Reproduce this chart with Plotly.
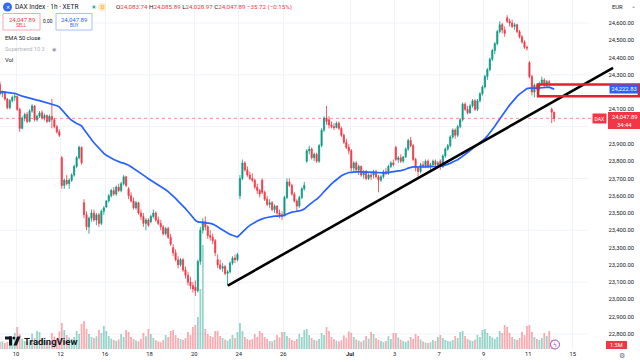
import plotly.graph_objects as go

# ---------------- data (1h bars, DAX Index, XETR) ----------------
opens = [
 24200,24215,24245,24190,24200,24160,24110,24150,24170,
 24175,24100,23990,24050,24070,24030,24090,24120,24040,
 24060,24080,24050,24065,24030,24060,24040,24000,23970,
 23820,23660,23690,23670,23690,23720,23770,23820,23880,
 23560,23490,23420,23470,23500,23460,23490,23440,23510,
 23535,23570,23600,23630,23610,23650,23630,23670,23710,
 23640,23600,23570,23530,23560,23500,23480,23440,23460,
 23450,23480,23500,23460,23440,23420,23380,23410,23360,
 23300,23270,23230,23200,23230,23170,23140,23100,23080,
 23070,23050,23220,23400,23450,23420,23370,23360,23340,
 23230,23200,23180,23190,23150,23160,23210,23240,23230,
 23600,23700,23790,23750,23720,23700,23690,23650,23630,
 23690,23620,23580,23550,23560,23520,23540,23500,23490,
 23490,23590,23680,23660,23610,23570,23540,23590,23640,
 23800,23860,23870,23820,23840,23800,23890,23980,24050,
 24040,24010,24000,23995,24020,23990,23950,23910,23880,
 23860,23760,23790,23750,23770,23720,23740,23700,23720,
 23720,23740,23710,23690,23710,23740,23730,23770,23790,
 23880,23810,23820,23800,23825,23870,23920,23890,23810,
 23760,23740,23780,23770,23800,23770,23780,23800,23780,
 23800,23770,23830,23870,23890,23940,23980,23950,24000,
 24040,24130,24100,24080,24120,24150,24100,24150,24190,
 24230,24290,24330,24390,24440,24480,24550,24590,24560,
 24630,24610,24600,24580,24590,24550,24520,24490,24460,
 24370,24290,24200,24240,24220,24250,24270,24240,24260,
 24100,24083.74]
highs = [
 24230,24255,24262,24210,24205,24165,24160,24180,24190,
 24180,24110,24060,24080,24085,24100,24130,24125,24070,
 24090,24095,24075,24070,24070,24160,24050,24010,23985,
 23830,23700,23720,23700,23730,23780,23830,23890,23885,
 23580,23510,23480,23520,23520,23500,23500,23520,23540,
 23575,23610,23640,23650,23660,23670,23680,23720,23715,
 23650,23620,23590,23570,23565,23520,23500,23470,23470,
 23490,23520,23510,23480,23460,23430,23420,23420,23380,
 23320,23290,23250,23240,23240,23190,23160,23130,23100,
 23110,23230,23420,23470,23480,23430,23400,23380,23350,
 23260,23230,23210,23200,23170,23220,23250,23260,23270,
 23720,23810,23800,23770,23740,23730,23700,23670,23640,
 23700,23630,23600,23580,23570,23550,23545,23520,23510,
 23600,23700,23700,23670,23620,23580,23600,23650,23680,
 23870,23890,23880,23850,23850,23900,23990,24060,24120,
 24060,24030,24020,24030,24030,24000,23960,23930,23900,
 23870,23800,23800,23780,23775,23750,23750,23730,23740,
 23750,23750,23720,23720,23750,23760,23780,23800,23810,
 23890,23830,23840,23830,23880,23930,23940,23900,23820,
 23770,23790,23800,23810,23810,23790,23810,23810,23800,
 23810,23840,23880,23900,23950,23990,23990,24010,24050,
 24140,24140,24120,24130,24160,24160,24160,24200,24240,
 24300,24340,24400,24450,24490,24560,24610,24600,24580,
 24645,24625,24620,24600,24595,24560,24530,24500,24470,
 24380,24300,24250,24250,24260,24290,24280,24270,24270,
 24110,24085.89]
lows = [
 24190,24205,24180,24170,24150,24100,24100,24140,24150,
 24090,23970,23985,24030,24020,24025,24080,24030,24030,
 24050,24040,24035,24020,24025,23990,23990,23960,23940,
 23640,23640,23660,23640,23680,23710,23760,23810,23780,
 23470,23400,23380,23450,23450,23430,23420,23430,23490,
 23530,23560,23590,23600,23600,23620,23620,23660,23650,
 23580,23560,23520,23520,23490,23460,23420,23400,23420,
 23440,23470,23450,23430,23400,23370,23370,23350,23310,
 23250,23220,23180,23190,23160,23120,23080,23060,23040,
 23020,23040,23200,23380,23400,23350,23340,23320,23250,
 23180,23170,23160,23140,23080,23150,23200,23210,23220,
 23580,23690,23740,23710,23690,23680,23640,23610,23590,
 23610,23570,23540,23530,23510,23500,23490,23470,23460,
 23480,23580,23650,23600,23560,23510,23530,23580,23630,
 23790,23840,23810,23800,23790,23790,23880,23970,24010,
 23990,23990,23980,23990,23980,23940,23900,23870,23840,
 23740,23740,23740,23720,23710,23700,23690,23690,23690,
 23700,23700,23620,23680,23700,23720,23720,23760,23770,
 23800,23790,23790,23790,23820,23860,23880,23800,23740,
 23710,23730,23760,23760,23760,23750,23770,23770,23760,
 23750,23760,23820,23860,23880,23930,23930,23940,23990,
 24030,24090,24070,24075,24110,24090,24090,24140,24180,
 24220,24270,24320,24380,24420,24470,24540,24540,24520,
 24600,24580,24570,24560,24540,24510,24480,24450,24440,
 24280,24180,24170,24210,24210,24240,24230,24230,24240,
 24020,24028.97]
closes = [
 24215,24245,24190,24200,24160,24110,24150,24170,24175,
 24100,23990,24050,24070,24030,24090,24120,24040,24060,
 24080,24050,24065,24030,24060,24040,24000,23970,23950,
 23660,23690,23670,23690,23720,23770,23820,23880,23790,
 23490,23420,23470,23500,23460,23490,23440,23510,23530,
 23570,23600,23630,23610,23650,23630,23670,23710,23660,
 23600,23570,23530,23560,23500,23480,23440,23460,23430,
 23480,23500,23460,23440,23420,23380,23410,23360,23320,
 23270,23230,23200,23230,23170,23140,23100,23080,23060,
 23050,23220,23400,23450,23420,23370,23360,23340,23270,
 23200,23180,23190,23150,23160,23210,23240,23230,23260,
 23700,23790,23750,23720,23700,23690,23650,23630,23610,
 23620,23580,23550,23560,23520,23540,23500,23490,23480,
 23590,23680,23660,23610,23570,23540,23590,23640,23660,
 23860,23870,23820,23840,23800,23890,23980,24050,24030,
 24010,24000,23995,24020,23990,23950,23910,23880,23860,
 23760,23790,23750,23770,23720,23740,23700,23720,23710,
 23740,23710,23690,23710,23740,23730,23770,23790,23780,
 23810,23820,23800,23825,23870,23920,23890,23810,23760,
 23740,23780,23770,23800,23770,23780,23800,23780,23790,
 23770,23830,23870,23890,23940,23980,23950,24000,24040,
 24130,24100,24080,24120,24150,24100,24150,24190,24230,
 24290,24330,24390,24440,24480,24550,24590,24560,24540,
 24610,24600,24580,24590,24550,24520,24490,24460,24455,
 24290,24200,24240,24220,24250,24270,24240,24260,24255,
 24083.74,24047.89]
volumes_m = [
 6.0,4.5,3.5,3.8,3.0,3.6,6.5,4.8,8.0,
 11.0,7.5,5.0,4.0,3.4,4.2,7.8,5.5,9.0,
 8.5,5.2,4.4,3.6,3.2,8.0,6.2,5.0,8.8,
 13.0,9.5,7.0,5.8,5.0,6.0,9.0,7.5,12.5,
 14.0,10.0,7.5,6.0,5.5,6.4,9.5,8.0,11.5,
 9.0,6.5,5.2,4.5,4.0,4.8,7.5,6.0,9.5,
 8.5,6.0,5.0,4.2,3.8,5.0,8.0,6.4,10.0,
 7.5,5.5,4.4,3.8,3.4,4.5,7.0,6.0,9.0,
 9.5,7.0,5.5,5.0,4.5,5.5,8.5,7.0,11.0,
 12.0,16.0,30.0,52.0,10.0,7.5,6.5,6.0,9.0,
 9.0,6.5,5.5,4.8,4.2,5.0,7.0,5.5,8.5,
 13.0,9.0,6.0,5.0,4.5,5.0,7.5,6.0,9.0,
 8.0,6.0,5.0,4.0,3.8,4.5,7.0,5.8,8.5,
 8.5,6.5,5.5,4.5,4.0,5.0,7.5,6.0,9.5,
 10.0,7.0,5.5,4.6,4.2,5.0,8.0,7.0,11.0,
 9.0,6.0,5.0,4.2,3.8,4.4,6.8,5.6,8.8,
 8.0,6.0,4.8,4.2,3.6,4.4,6.5,5.2,8.5,
 7.5,5.5,4.5,4.0,3.4,4.0,6.4,5.0,8.0,
 8.0,5.8,4.6,4.0,3.6,4.2,6.0,5.0,7.5,
 6.5,4.8,3.8,3.2,3.0,3.4,4.5,4.0,6.0,
 7.0,5.5,4.5,4.0,3.8,4.5,6.5,5.5,8.5,
 9.0,6.5,5.0,4.4,4.0,4.8,7.0,6.0,9.5,
 10.0,8.0,6.5,5.8,5.0,6.0,9.0,8.0,12.0,
 11.0,8.0,6.0,5.0,4.5,5.5,8.5,7.0,11.5,
 12.0,8.5,6.0,5.0,4.5,5.5,8.0,6.5,9.0,
 4.5,1.5]

tick_day_index = [1, 3, 5, 7, 9, 11, 13, 16, 18, 20, 22, 24, 26]
tick_labels = ["10", "12", "16", "18", "20", "24", "26", "<b>Jul</b>", "3", "7", "9", "11", "15"]
price_ticks = [p for p in range(22800, 24700, 100) if p not in (24000, 24200)]
BARS_PER_DAY = 9
EMA_LEN = 50
EMA_SEED = 24200.0

last_price = 24047.89
ema_last_label = "24,222.83"
trend_start = (94.6, 23080.0)   # (bar, price)
trend_end = (250.3, 24340.0)
zone_low, zone_high = 24176.0, 24244.0
zone_start_bar = 220.0

# ---------------- derived ----------------
n = len(closes)
xs = [i + 0.5 for i in range(n)]
alpha = 2.0 / (EMA_LEN + 1)
ema = []
e = EMA_SEED
for c in closes:
    e = e + alpha * (c - e)
    ema.append(e)

UP = "#089981"
DOWN = "#F23645"
vol_colors = ["rgba(8,153,129,0.42)" if c >= o else "rgba(242,54,69,0.42)"
              for o, c in zip(opens, closes)]

W, H = 640, 362
PLOT_H = 349
def bar_at(px):
    return (px + 6.27) / 2.4744
X_MIN, X_MAX = bar_at(0), bar_at(640)
PRICE_SCALE_X = bar_at(588)

def P(px, py):
    return px / W, 1 - py / PLOT_H

fig = go.Figure()
fig.add_trace(go.Bar(x=xs, y=volumes_m, marker_color=vol_colors, marker_line_width=0,
                     yaxis="y", hoverinfo="skip", showlegend=False))
fig.add_trace(go.Candlestick(
    x=xs, open=opens, high=highs, low=lows, close=closes, yaxis="y2",
    increasing=dict(line=dict(color=UP, width=0.8), fillcolor=UP),
    decreasing=dict(line=dict(color=DOWN, width=0.8), fillcolor=DOWN),
    whiskerwidth=0, showlegend=False))
fig.add_trace(go.Scatter(x=xs, y=ema, yaxis="y2", mode="lines",
                         line=dict(color="#2962FF", width=1.7), showlegend=False))

shapes = []
for p in range(22800, 24700, 300):
    shapes.append(dict(type="line", xref="x", yref="y2", x0=X_MIN, x1=PRICE_SCALE_X,
                       y0=p, y1=p, line=dict(color="#f0f3fa", width=1), layer="below"))
shapes.append(dict(type="line", xref="x", yref="y2", x0=X_MIN, x1=bar_at(593),
                   y0=last_price, y1=last_price,
                   line=dict(color="rgba(242,54,69,0.55)", width=1, dash="dot")))
shapes.append(dict(type="line", xref="x", yref="y2", x0=trend_start[0], y0=trend_start[1],
                   x1=trend_end[0], y1=trend_end[1], line=dict(color="#000000", width=2.6)))
shapes.append(dict(type="rect", xref="x", yref="y2", x0=zone_start_bar, x1=bar_at(639),
                   y0=zone_low, y1=zone_high, line=dict(color="#E0232E", width=2.6),
                   fillcolor="rgba(255,255,255,0)"))

annotations = []
def txt(px, py, text, size=6.5, color="#131722", anchor="left", **kw):
    x, y = P(px, py)
    annotations.append(dict(xref="paper", yref="paper", x=x, y=y, text=text, showarrow=False,
                            xanchor=anchor, yanchor="middle",
                            font=dict(size=size, color=color, family=kw.pop("family", "Roboto")),
                            **kw))

def circ(a, b, c, d, fill, line=None):
    x0, y0 = P(a, b); x1, y1 = P(c, d)
    shapes.append(dict(type="circle", xref="paper", yref="paper", x0=x0, y0=y0, x1=x1, y1=y1,
                       fillcolor=fill, line=line or dict(width=0)))

def rectpx(a, b, c, d, fill, line=None):
    x0, y0 = P(a, b); x1, y1 = P(c, d)
    shapes.append(dict(type="rect", xref="paper", yref="paper", x0=x0, y0=y0, x1=x1, y1=y1,
                       fillcolor=fill, line=line or dict(width=0)))

# header
circ(3, 2.5, 12, 11.5, "#2F6BF0")
txt(7.5, 7, "✕", size=5, color="#ffffff", anchor="center")
txt(13, 7, "DAX Index · 1h · XETR", size=6.6)
circ(91.5, 4.5, 96.5, 9.5, "#c8ece5")
circ(93, 6, 95, 8, UP)
circ(98, 3, 106, 11, "#FFE9C4")
txt(102, 7, "D", size=5, color="#FF9800", anchor="center")
ohlc = ("<span style='color:#131722'>O</span>24,083.74 "
        "<span style='color:#131722'>H</span>24,085.89 "
        "<span style='color:#131722'>L</span>24,028.97 "
        "<span style='color:#131722'>C</span>24,047.89 −35.72 (−0.15%)")
txt(114, 7, ohlc, size=6.2, color=DOWN)

rectpx(3, 13.5, 40, 30, "#ffffff", dict(color="#F7A9B0", width=1))
txt(21.5, 19, "24,047.89", size=6, color=DOWN, anchor="center")
txt(21.5, 26, "SELL", size=4.6, color=DOWN, anchor="center")
txt(48, 22, "0.00", size=4.8, color="#131722", anchor="center")
rectpx(56, 13.5, 92, 30, "#ffffff", dict(color="#A8BFFA", width=1))
txt(74, 19, "24,047.89", size=6, color="#2962FF", anchor="center")
txt(74, 26, "BUY", size=4.6, color="#2962FF", anchor="center")

txt(3, 38, "EMA 50 close", size=5.8)
txt(3, 49, "Supertrend 10 3", size=5.6, color="#B2B5BE")
txt(54, 49, "◉", size=5, color="#9598a1", anchor="center")
txt(3, 60, "Vol", size=5.8)

# right scale extras
txt(617, 7, "EUR", size=5.8, anchor="center")
txt(633, 6, "⌄", size=5.5, color="#6a6d78", anchor="center")
txt(639, 89, ema_last_label, size=5.8, color="#ffffff", anchor="right",
    bgcolor="#2962FF", borderpad=1.2)
txt(607, 118.5, "DAX", size=5, color="#ffffff", anchor="right", bgcolor="#F23645", borderpad=1.5)
rectpx(608, 112, 641, 129, "#F23645")
txt(624, 116.5, "24,047.89", size=5.8, color="#ffffff", anchor="center")
txt(624, 124.5, "34:44", size=5.8, color="#ffffff", anchor="center")
rectpx(606, 341, 627, 349, "#F23645")
txt(616.5, 345, "1.5M", size=5.6, color="#ffffff", anchor="center")
txt(622, 356, "⚙", size=7, color="#6a6d78", anchor="center", family="DejaVu Sans")

# events icon
circ(550.5, 340, 559.5, 349, "#ffffff", dict(color="#AB47BC", width=1))
txt(555, 344.5, "ϟ", size=6, color="#AB47BC", anchor="center", family="DejaVu Sans")

# TradingView logo
rectpx(5, 336.5, 12, 339.5, "#131722")
rectpx(9, 336.5, 12, 345.5, "#131722")
circ(12.3, 336.5, 15.3, 339.5, "#131722")
pts = [P(13.5, 345.5), P(17.2, 336.5), P(20.5, 336.5), P(16.8, 345.5)]
path = "M " + " L ".join(f"{a:.5f},{b:.5f}" for a, b in pts) + " Z"
shapes.append(dict(type="path", xref="paper", yref="paper", path=path,
                   fillcolor="#131722", line=dict(width=0)))
txt(22, 341, "<b>TradingView</b>", size=9.5, color="#131722")

fig.update_layout(
    width=W, height=H,
    margin=dict(l=0, r=0, t=0, b=H - PLOT_H, pad=0),
    paper_bgcolor="#ffffff", plot_bgcolor="#ffffff",
    bargap=0.28, boxgap=0.35,
    showlegend=False, hovermode=False,
    xaxis=dict(range=[X_MIN, X_MAX], tickvals=[d * BARS_PER_DAY for d in tick_day_index],
               ticktext=tick_labels, showgrid=True, gridcolor="#f0f3fa", gridwidth=1,
               zeroline=False, showline=False, ticks="", rangeslider=dict(visible=False),
               tickfont=dict(size=5.8, color="#131722", family="Roboto"), fixedrange=True),
    yaxis=dict(range=[0, 174.5], visible=False, fixedrange=True),
    yaxis2=dict(range=[22713, 24733], overlaying="y", side="right", anchor="x",
                tickvals=price_ticks, ticktext=[f"{v:,.2f}" for v in price_ticks],
                ticklabelposition="inside", ticks="", ticklabelstandoff=3,
                showgrid=False, zeroline=False, fixedrange=True,
                showline=False, tickfont=dict(size=5.8, color="#131722", family="Roboto")),
    shapes=shapes, annotations=annotations,
)
fig.write_html("out.html", config={"displayModeBar": False, "staticPlot": True},
               post_script="document.body.style.margin='0px';document.body.style.overflow='hidden';")
